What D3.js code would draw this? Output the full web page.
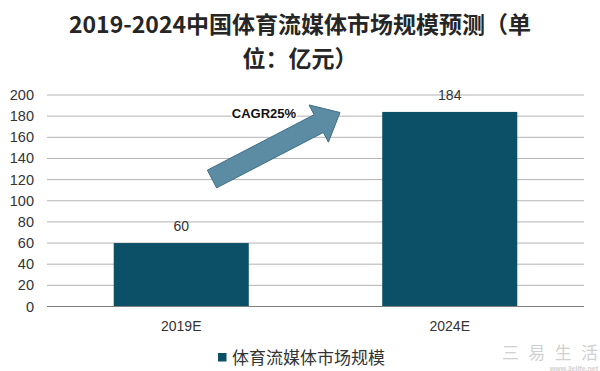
<!DOCTYPE html>
<html><head><meta charset="utf-8">
<script src="https://cdn.jsdelivr.net/npm/d3@7"></script>
<style>body{margin:0;background:#fff}svg{display:block}</style>
</head><body>
<svg id="c" width="600" height="371"></svg>
<script>
const categories = ["2019E", "2024E"];
const values = [60, 184];
const yTicks = [0, 20, 40, 60, 80, 100, 120, 140, 160, 180, 200];
const seriesName = "体育流媒体市场规模";
const titleLines = ["2019-2024中国体育流媒体市场规模预测（单", "位：亿元）"];
const cagrLabel = "CAGR25%";

const svg = d3.select("#c");
const margin = {left: 47, right: 16, top: 95, bottom: 65};
const W = 600, H = 371;
const x = d3.scaleBand().domain(categories).range([margin.left, W - margin.right]).paddingInner(0.497).paddingOuter(0.2485);
const y = d3.scaleLinear().domain([0, 200]).range([306.5, 95]);

// title
svg.append("g").selectAll("text").data(titleLines).join("text")
  .attr("x", 300).attr("y", (d, i) => 33 + i * 33.5)
  .attr("text-anchor", "middle")
  .attr("font-family", "'Noto Sans CJK SC', sans-serif")
  .attr("font-weight", "bold").attr("font-size", 23).attr("fill", "#262626")
  .text(d => d);

// gridlines
svg.append("g").selectAll("line").data(yTicks.filter(d => d > 0)).join("line")
  .attr("x1", margin.left).attr("x2", W - margin.right)
  .attr("y1", d => y(d)).attr("y2", d => y(d))
  .attr("stroke", "#b3b3b3").attr("stroke-width", 1);

// y tick labels
svg.append("g").selectAll("text").data(yTicks).join("text")
  .attr("x", 34).attr("y", d => y(d) + 5)
  .attr("text-anchor", "end")
  .attr("font-family", "'Liberation Sans', Arial, sans-serif")
  .attr("font-size", 14.5).attr("fill", "#333")
  .text(d => d);

// bars
svg.append("g").selectAll("rect").data(values).join("rect")
  .attr("x", (d, i) => x(categories[i])).attr("width", x.bandwidth())
  .attr("y", d => y(d)).attr("height", d => y(0) - y(d))
  .attr("fill", "#0c5068");

// x axis line
svg.append("line").attr("x1", margin.left).attr("x2", W - margin.right)
  .attr("y1", y(0)).attr("y2", y(0)).attr("stroke", "#7f7f7f").attr("stroke-width", 1);

// value labels
svg.append("g").selectAll("text").data(values).join("text")
  .attr("x", (d, i) => x(categories[i]) + x.bandwidth() / 2)
  .attr("y", d => y(d) - 12)
  .attr("text-anchor", "middle")
  .attr("font-family", "'Liberation Sans', Arial, sans-serif")
  .attr("font-size", 14).attr("fill", "#333")
  .text(d => d);

// category labels
svg.append("g").selectAll("text").data(categories).join("text")
  .attr("x", d => x(d) + x.bandwidth() / 2).attr("y", 331)
  .attr("text-anchor", "middle")
  .attr("font-family", "'Liberation Sans', Arial, sans-serif")
  .attr("font-size", 14).attr("fill", "#333")
  .text(d => d);

// arrow annotation
(function () {
  const tail = [212, 179], tip = [340, 112.5];
  const dx = tip[0] - tail[0], dy = tip[1] - tail[1];
  const L = Math.hypot(dx, dy), ux = dx / L, uy = dy / L, px = -uy, py = ux;
  const sw = 10, hw = 21, hl = 24;
  const b = [tip[0] - ux * hl, tip[1] - uy * hl];
  const pts = [
    [tail[0] + px * sw, tail[1] + py * sw],
    [b[0] + px * sw, b[1] + py * sw],
    [b[0] + px * hw, b[1] + py * hw],
    tip,
    [b[0] - px * hw, b[1] - py * hw],
    [b[0] - px * sw, b[1] - py * sw],
    [tail[0] - px * sw, tail[1] - py * sw]
  ];
  svg.append("path").attr("d", d3.line()(pts) + "Z")
    .attr("fill", "#5b8ca3").attr("stroke", "#3f6e84").attr("stroke-width", 1);
})();

// CAGR label
svg.append("text").attr("x", 264).attr("y", 118).attr("text-anchor", "middle")
  .attr("font-family", "'Liberation Sans', Arial, sans-serif").attr("font-weight", "bold")
  .attr("font-size", 13).attr("fill", "#111")
  .attr("stroke", "#fff").attr("stroke-width", 3).attr("paint-order", "stroke")
  .text(cagrLabel);

// legend
svg.append("rect").attr("x", 218).attr("y", 353).attr("width", 8.5).attr("height", 8.5).attr("fill", "#0c5068");
svg.append("text").attr("x", 232).attr("y", 364)
  .attr("font-family", "'Noto Sans CJK SC', sans-serif")
  .attr("font-size", 17).attr("fill", "#333")
  .text(seriesName);

// watermark
svg.append("text").attr("x", 502).attr("y", 359)
  .attr("font-family", "'Noto Sans CJK SC', sans-serif").attr("font-size", 17)
  .attr("textLength", 96).attr("lengthAdjust", "spacing")
  .attr("fill", "#d0d0d0").text("三易生活");
svg.append("text").attr("x", 598).attr("y", 371).attr("text-anchor", "end")
  .attr("font-family", "'Liberation Sans', Arial, sans-serif").attr("font-weight", "bold").attr("font-size", 7)
  .attr("fill", "#d0d0d0").text("www.3elife.net");
</script>
</body></html>
